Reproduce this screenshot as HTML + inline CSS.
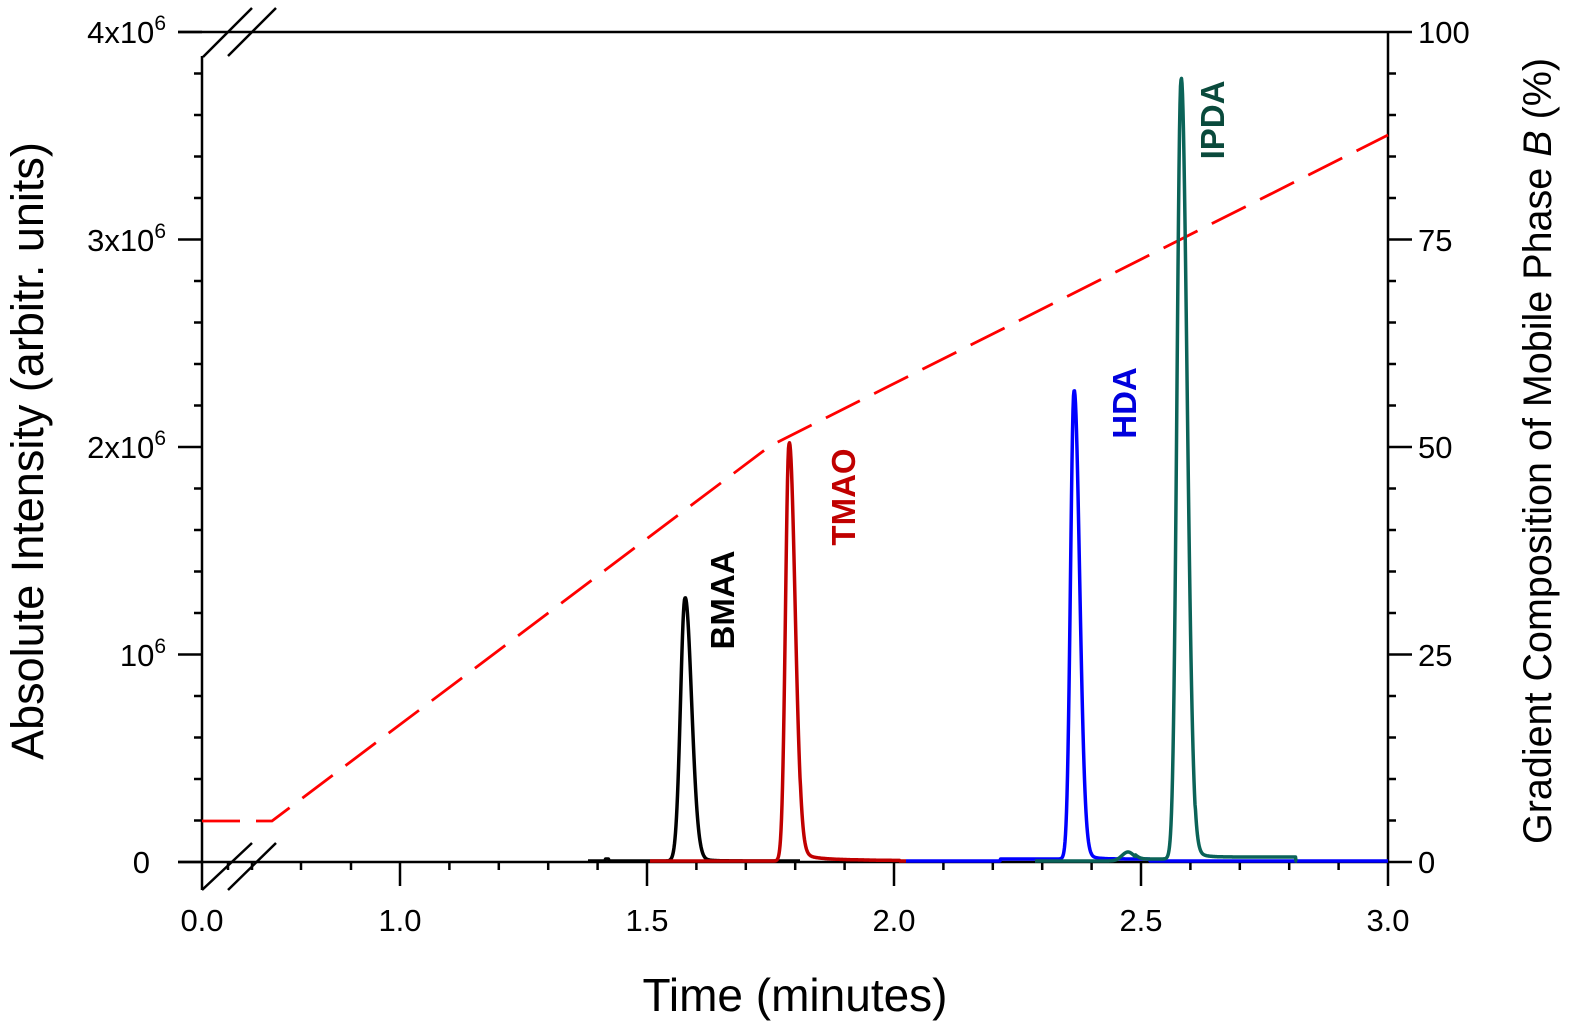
<!DOCTYPE html>
<html><head><meta charset="utf-8"><style>
html,body{margin:0;padding:0;background:#fff;}
svg{display:block;font-family:"Liberation Sans",Arial,sans-serif;}
</style></head><body>
<svg id="s" width="1576" height="1032" viewBox="0 0 1576 1032" xmlns="http://www.w3.org/2000/svg">
<g stroke="#000" stroke-width="2.5" fill="none">
  <line x1="202" y1="56" x2="202" y2="890"/>
  <line x1="178" y1="32" x2="1388" y2="32"/>
  <line x1="1388" y1="32" x2="1388" y2="862"/>
  <line x1="178" y1="862" x2="1388" y2="862"/>
  <line x1="203" y1="57" x2="252" y2="8"/>
  <line x1="228" y1="56" x2="276" y2="8"/>
  <line x1="202" y1="890" x2="252" y2="843"/>
  <line x1="228" y1="890" x2="276" y2="843"/>
</g>
<g id="ticks" stroke="#000" stroke-width="2.5"></g>
<g font-size="31" fill="#000">
  <text x="166" y="43" text-anchor="end">4x10<tspan font-size="21" dy="-13">6</tspan></text>
  <text x="166" y="251" text-anchor="end">3x10<tspan font-size="21" dy="-13">6</tspan></text>
  <text x="166" y="458" text-anchor="end">2x10<tspan font-size="21" dy="-13">6</tspan></text>
  <text x="166" y="666" text-anchor="end">10<tspan font-size="21" dy="-13">6</tspan></text>
  <text x="150" y="873" text-anchor="end">0</text>
  <text x="1418" y="43">100</text>
  <text x="1418" y="251">75</text>
  <text x="1418" y="458">50</text>
  <text x="1418" y="666">25</text>
  <text x="1418" y="873">0</text>
  <text x="202" y="931" text-anchor="middle">0.0</text>
  <text x="400" y="931" text-anchor="middle">1.0</text>
  <text x="647" y="931" text-anchor="middle">1.5</text>
  <text x="894" y="931" text-anchor="middle">2.0</text>
  <text x="1141" y="931" text-anchor="middle">2.5</text>
  <text x="1388" y="931" text-anchor="middle">3.0</text>
</g>
<text x="795" y="1011" font-size="46" text-anchor="middle">Time (minutes)</text>
<text transform="translate(43,451) rotate(-90)" font-size="45" text-anchor="middle">Absolute Intensity (arbitr. units)</text>
<text transform="translate(1551,451) rotate(-90)" font-size="39.5" text-anchor="middle">Gradient Composition of Mobile Phase <tspan font-style="italic">B</tspan> (%)</text>
<polyline points="202,821 272,821 770,446 1388,135" fill="none" stroke="#ff0000" stroke-width="2.8" stroke-dasharray="38,16"/>
<g id="curves" fill="none" stroke-width="3.5" stroke-linejoin="round"></g>
<g font-size="33" font-weight="bold">
  <text transform="translate(734,600) rotate(-90)" text-anchor="middle" fill="#000">BMAA</text>
  <text transform="translate(855,497) rotate(-90)" text-anchor="middle" fill="#c00000">TMAO</text>
  <text transform="translate(1136,403) rotate(-90)" text-anchor="middle" fill="#0000dd">HDA</text>
  <text transform="translate(1224,120) rotate(-90)" text-anchor="middle" fill="#0a4a3c">IPDA</text>
</g>
<script>
var NS="http://www.w3.org/2000/svg";
var t=document.getElementById('ticks');
function L(x1,y1,x2,y2){var l=document.createElementNS(NS,'line');l.setAttribute('x1',x1);l.setAttribute('y1',y1);l.setAttribute('x2',x2);l.setAttribute('y2',y2);t.appendChild(l);}
for(var i=0;i<=20;i++){var y=862-i*41.5;var maj=(i%5==0);L(202,y,maj?178:194,y);L(1388,y,maj?1412:1396,y);}
[228,252,301,351].forEach(function(x){L(x,862,x,870);});
for(var k=10;k<=30;k++){var x=400+(k-10)*49.4;var maj=(k%5==0);L(x,862,x,maj?886:870);}
var c=document.getElementById('curves');
function peak(x,c0,h,sl,sr,tail,tt){var d=x-c0;var s=d<0?sl:sr;var v=h*Math.exp(-d*d/(2*s*s));if(d>0&&tail)v+=tail*(1-Math.exp(-d/3))*Math.exp(-d/tt);return v;}
function draw(col,x0,x1,f){var p=[];for(var x=x0;x<=x1;x+=0.5){p.push(x.toFixed(1)+','+(861-f(x)).toFixed(1));}var pl=document.createElementNS(NS,'polyline');pl.setAttribute('points',p.join(' '));pl.setAttribute('stroke',col);c.appendChild(pl);}
draw('#000',588,800,function(x){return peak(x,685,263,4.5,6.5,6,12)+ (Math.abs(x-607)<2?2:0);});
draw('#c00000',650,906,function(x){return peak(x,789,417,3.5,6,18,10)+(x>800&&x<900?3*Math.exp(-(x-800)/60):0);});
draw('#0000ff',906,1388,function(x){return peak(x,1074,468,3.5,5.5,14,9)+(x>1000&&x<1150?2:0);});
draw('#0b6358',1035,1297,function(x){var v=peak(x,1181,781,4,6,30,8)+peak(x,1128,9,6,6,0,1);if(x>1135&&x<1180)v+=2;if(x>1195&&x<1296)v+=4;return v;});
</script>
</svg>
</body></html>
